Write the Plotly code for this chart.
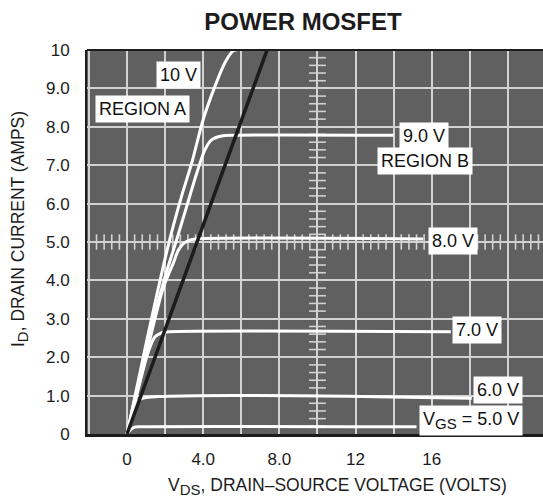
import numpy as np
import plotly.graph_objects as go

# ---- data ----
vgs10_x = [0, 1.0, 2.17, 2.87, 3.4, 4.0, 4.62, 5.14, 5.58, 6.0]
vgs10_y = [0, 2.35, 4.92, 6.2, 7.06, 8.19, 9.06, 9.67, 9.98, 10.02]

vgs9_x = [0, 1.0, 2.0, 2.52, 3.13, 3.66, 4.09, 4.44, 4.97, 5.67, 14.0]
vgs9_y = [0, 2.2, 4.1, 4.92, 5.92, 6.79, 7.40, 7.66, 7.76, 7.78, 7.78]

vgs8_x = [0, 1.0, 1.9, 2.43, 2.7, 2.96, 3.3, 3.6, 15.55]
vgs8_y = [0, 2.05, 3.8, 4.45, 4.79, 4.96, 5.05, 5.08, 5.08]

vgs7_x = [0, 1.0, 1.21, 1.47, 1.8, 2.2, 17.0]
vgs7_y = [0, 1.95, 2.27, 2.53, 2.63, 2.66, 2.66]

vgs6_x = [0, 0.35, 0.55, 0.8, 18.1]
vgs6_y = [0, 0.6, 0.85, 0.93, 0.93]

vgs5_x = [0, 0.2, 0.4, 0.7, 15.2]
vgs5_y = [0, 0.12, 0.18, 0.19, 0.19]

load_x = [0, 7.5]
load_y = [0, 10.2]

x_tickvals = [-2, 0, 2, 4, 6, 8, 10, 12, 14, 16, 18, 20]
x_ticktext = ["", "0", "", "4.0", "", "8.0", "", "12", "", "16", "", ""]
y_tickvals = [0, 1, 2, 3, 4, 5, 6, 7, 8, 9, 10]
y_ticktext = ["0", "1.0", "2.0", "3.0", "4.0", "5.0", "6.0", "7.0", "8.0", "9.0", "10"]

SUB = "<sub><span style='font-size:15px'>{}</span></sub>"
labels = ["10 V", "REGION A", "9.0 V", "REGION B", "8.0 V", "7.0 V", "6.0 V",
          "V" + SUB.format("GS") + " = 5.0 V"]
label_x = [2.7, 0.81, 15.6, 15.64, 17.09, 18.4, 19.5, 18.08]
label_y = [9.36, 8.46, 7.76, 7.1, 5.03, 2.7, 1.15, 0.34]

# ---- styling ----
FONT = "Liberation Sans, Arial, sans-serif"
GRID = "#d2d2d2"
BG = "#606060"
INK = "#1c1c1c"

fig = go.Figure()

# oscilloscope-style centre crosshair minor ticks
cross_y = [v for v in np.round(np.arange(0, 10.001, 0.2), 2) if abs(v - round(v)) > 1e-6]
cross_x = [v for v in np.round(np.arange(-2, 22.001, 0.4), 2) if abs(v / 2 - round(v / 2)) > 1e-6]
fig.add_trace(go.Scatter(x=[10] * len(cross_y), y=cross_y, mode="markers",
                         marker=dict(symbol="line-ew", size=12, line=dict(width=1.6, color=GRID)),
                         hoverinfo="skip", showlegend=False))
fig.add_trace(go.Scatter(x=cross_x, y=[5] * len(cross_x), mode="markers",
                         marker=dict(symbol="line-ns", size=11, line=dict(width=1.6, color=GRID)),
                         hoverinfo="skip", showlegend=False))

for xs, ys in [(vgs10_x, vgs10_y), (vgs9_x, vgs9_y), (vgs8_x, vgs8_y),
               (vgs7_x, vgs7_y), (vgs6_x, vgs6_y), (vgs5_x, vgs5_y)]:
    fig.add_trace(go.Scatter(x=xs, y=ys, mode="lines",
                             line=dict(color="white", width=3, shape="spline", smoothing=0.8),
                             showlegend=False, hoverinfo="skip"))

fig.add_trace(go.Scatter(x=load_x, y=load_y, mode="lines",
                         line=dict(color=INK, width=3.5), showlegend=False, hoverinfo="skip"))

for t, lx, ly in zip(labels, label_x, label_y):
    fig.add_annotation(x=lx, y=ly, xref="x", yref="y", text=t, showarrow=False,
                       font=dict(family=FONT, size=18, color="#111111"),
                       bgcolor="white", borderpad=3, xanchor="center", yanchor="middle")

# axis titles
fig.add_annotation(x=(337 - 87) / 456, y=-(486 - 434) / 384, xref="paper", yref="paper",
                   text="V" + SUB.format("DS") + ", DRAIN\u2013SOURCE VOLTAGE (VOLTS)",
                   showarrow=False,
                   font=dict(family=FONT, size=17.5, color=INK), xanchor="center", yanchor="middle")
fig.add_annotation(x=-(87 - 19) / 456, y=(434 - 229) / 384, xref="paper", yref="paper",
                   text="I" + SUB.format("D") + ", DRAIN CURRENT (AMPS)", showarrow=False,
                   textangle=-90,
                   font=dict(family=FONT, size=17.5, color=INK), xanchor="center", yanchor="middle")

# top border
fig.add_shape(type="line", xref="paper", yref="paper", x0=0, x1=1, y0=1, y1=1,
              line=dict(color=INK, width=2))

fig.update_layout(
    width=543, height=500,
    margin=dict(l=87, r=0, t=50, b=66),
    paper_bgcolor="white", plot_bgcolor=BG,
    title=dict(text="<b>POWER MOSFET</b>", x=303 / 543, xanchor="center",
               y=1 - 22 / 500, yanchor="middle",
               font=dict(family=FONT, size=24, color=INK)),
    xaxis=dict(range=[-2.1, 21.84], tickmode="array", tickvals=x_tickvals, ticktext=x_ticktext,
               showgrid=True, gridcolor=GRID, gridwidth=2, zeroline=False,
               showline=True, linecolor=INK, linewidth=3, ticks="", ticklabelstandoff=8,
               tickfont=dict(family=FONT, size=17, color=INK)),
    yaxis=dict(range=[0, 10], tickmode="array", tickvals=y_tickvals, ticktext=y_ticktext,
               showgrid=True, gridcolor=GRID, gridwidth=2, zeroline=False,
               showline=True, linecolor=INK, linewidth=2, ticks="", ticklabelstandoff=12,
               tickfont=dict(family=FONT, size=17, color=INK)),
)

fig.write_html("out.html")
